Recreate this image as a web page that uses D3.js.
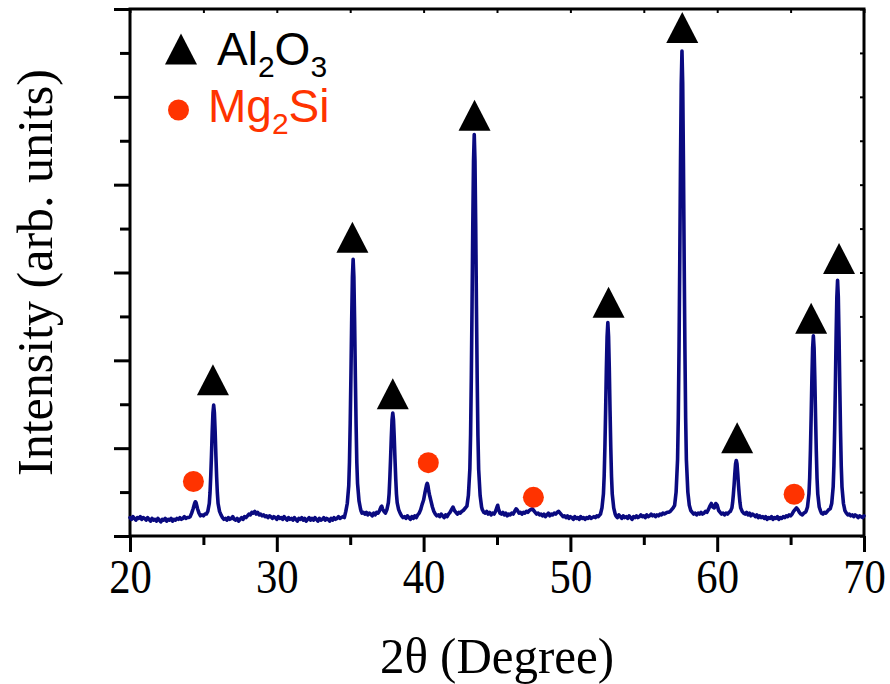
<!DOCTYPE html>
<html><head><meta charset="utf-8">
<script src="https://cdn.jsdelivr.net/npm/d3@7/dist/d3.min.js"></script>
<style>html,body{margin:0;padding:0;background:#fff;}svg{display:block}</style>
</head><body>
<svg id="chart" width="890" height="684"></svg>
<script>
// ---------- data ----------
const xMajorTicks = [20, 30, 40, 50, 60, 70];
const xMinorTicks = [25, 35, 45, 55, 65];
const yMajorTicks = [0, 100, 200, 300, 400, 500, 600];
const yMinorTicks = [50, 150, 250, 350, 450, 550];

// 2θ (degree), intensity (arb. units)
const xrdPattern = [
[20.0,21],[20.1,19],[20.2,22],[20.3,20],[20.4,18],[20.5,21],[20.6,20],[20.7,22],[20.8,19],[20.9,21],
[21.0,20],[21.1,18],[21.2,21],[21.3,19],[21.4,17],[21.5,20],[21.6,18],[21.7,19],[21.8,17],[21.9,20],
[22.0,18],[22.1,16],[22.2,19],[22.3,18],[22.4,20],[22.5,17],[22.6,19],[22.7,18],[22.8,20],[22.9,17],
[23.0,19],[23.1,18],[23.2,20],[23.3,19],[23.4,21],[23.5,19],[23.6,20],[23.7,22],[23.8,20],[23.9,21],
[24.0,21],[24.1,22],[24.2,26],[24.3,31],[24.4,37],[24.45,39],[24.5,38],[24.6,31],[24.7,26],[24.8,23],
[24.9,24],[25.0,23],[25.1,25],[25.2,25],[25.3,28],[25.4,37],[25.45,49],[25.5,68],[25.55,92],[25.6,119],
[25.65,140],[25.7,149],[25.75,140],[25.8,119],[25.85,92],[25.9,68],[25.95,49],[26.0,37],[26.1,28],[26.2,24],
[26.3,21],[26.4,19],[26.5,20],[26.6,18],[26.7,21],[26.8,19],[26.9,20],[27.0,22],[27.1,19],[27.2,18],
[27.3,20],[27.4,17],[27.5,19],[27.6,21],[27.7,19],[27.8,22],[27.9,21],[28.0,23],[28.1,25],[28.2,24],
[28.3,27],[28.4,26],[28.5,28],[28.6,25],[28.7,27],[28.8,24],[28.9,25],[29.0,23],[29.1,24],[29.2,22],
[29.3,23],[29.4,21],[29.5,23],[29.6,22],[29.7,20],[29.8,22],[29.9,21],[30.0,19],[30.1,22],[30.2,20],
[30.3,21],[30.4,19],[30.5,22],[30.6,20],[30.7,18],[30.8,21],[30.9,19],[31.0,20],[31.1,18],[31.2,21],
[31.3,19],[31.4,17],[31.5,20],[31.6,19],[31.7,21],[31.8,18],[31.9,20],[32.0,17],[32.1,19],[32.2,21],
[32.3,18],[32.4,20],[32.5,18],[32.6,21],[32.7,19],[32.8,17],[32.9,20],[33.0,18],[33.1,19],[33.2,21],
[33.3,18],[33.4,20],[33.5,19],[33.6,17],[33.7,20],[33.8,18],[33.9,21],[34.0,19],[34.1,20],[34.2,22],
[34.3,20],[34.4,21],[34.5,22],[34.6,21],[34.7,28],[34.8,37],[34.9,57],[34.95,84],[35.0,128],[35.05,183],
[35.1,245],[35.15,295],[35.2,315],[35.25,295],[35.3,245],[35.35,183],[35.4,128],[35.45,84],[35.5,60],[35.6,40],
[35.7,31],[35.75,28],[35.8,26],[35.9,27],[36.0,25],[36.1,27],[36.2,24],[36.3,26],[36.4,25],[36.5,23],
[36.6,26],[36.7,24],[36.8,27],[36.9,26],[37.0,29],[37.1,33],[37.15,34],[37.2,31],[37.3,28],[37.4,26],
[37.5,30],[37.6,38],[37.65,48],[37.7,66],[37.75,88],[37.8,112],[37.85,132],[37.9,140],[37.95,132],[38.0,112],
[38.05,88],[38.1,66],[38.15,48],[38.2,38],[38.3,30],[38.4,26],[38.5,23],[38.6,21],[38.7,22],[38.8,20],
[38.9,23],[39.0,21],[39.1,19],[39.2,22],[39.3,20],[39.4,23],[39.5,21],[39.6,24],[39.7,26],[39.8,30],
[39.9,36],[40.0,41],[40.1,50],[40.15,54],[40.2,58],[40.25,60],[40.3,57],[40.35,51],[40.4,47],[40.5,40],
[40.6,33],[40.7,28],[40.8,25],[40.9,23],[41.0,24],[41.1,22],[41.2,25],[41.3,23],[41.4,21],[41.5,24],
[41.6,22],[41.7,25],[41.8,27],[41.9,30],[42.0,33],[42.1,29],[42.2,27],[42.3,25],[42.4,27],[42.5,26],
[42.6,28],[42.7,29],[42.8,31],[42.95,34],[43.05,46],[43.15,76],[43.2,115],[43.25,180],[43.3,262],[43.35,353],
[43.4,427],[43.45,457],[43.5,427],[43.55,353],[43.6,262],[43.65,180],[43.7,115],[43.75,76],[43.85,46],[43.95,33],
[44.0,30],[44.1,27],[44.2,26],[44.3,28],[44.4,25],[44.5,27],[44.6,24],[44.7,26],[44.8,25],[44.9,28],
[45.0,33],[45.05,35],[45.1,31],[45.2,26],[45.3,25],[45.4,27],[45.5,24],[45.6,26],[45.7,23],[45.8,25],
[45.9,24],[46.0,26],[46.1,25],[46.2,28],[46.3,31],[46.4,29],[46.5,26],[46.6,27],[46.7,25],[46.8,27],
[46.9,26],[47.0,28],[47.1,27],[47.2,29],[47.3,30],[47.4,31],[47.5,29],[47.6,27],[47.7,25],[47.8,26],
[47.9,24],[48.0,25],[48.1,23],[48.2,25],[48.3,22],[48.4,24],[48.5,26],[48.6,23],[48.7,25],[48.8,24],
[48.9,26],[49.0,25],[49.1,27],[49.2,28],[49.3,26],[49.4,24],[49.5,22],[49.6,23],[49.7,21],[49.8,23],
[49.9,20],[50.0,22],[50.1,21],[50.2,19],[50.3,22],[50.4,20],[50.5,21],[50.6,19],[50.7,22],[50.8,20],
[50.9,21],[51.0,19],[51.1,21],[51.2,20],[51.3,22],[51.4,20],[51.5,21],[51.6,22],[51.7,21],[51.8,23],
[51.9,22],[52.0,24],[52.05,25],[52.15,32],[52.25,48],[52.3,68],[52.35,101],[52.4,143],[52.45,190],[52.5,227],
[52.55,243],[52.6,227],[52.65,190],[52.7,143],[52.75,101],[52.8,68],[52.85,48],[52.95,32],[53.05,25],[53.1,23],
[53.2,21],[53.3,24],[53.4,22],[53.5,20],[53.6,23],[53.7,21],[53.8,22],[53.9,20],[54.0,23],[54.1,21],
[54.2,19],[54.3,22],[54.4,21],[54.5,23],[54.6,21],[54.7,22],[54.8,24],[54.9,22],[55.0,23],[55.1,21],
[55.2,24],[55.3,22],[55.4,23],[55.5,25],[55.6,23],[55.7,24],[55.8,22],[55.9,24],[56.0,23],[56.1,25],
[56.2,24],[56.3,26],[56.4,25],[56.5,26],[56.6,27],[56.7,27],[56.8,28],[56.9,30],[57.0,32],[57.1,35],
[57.2,50],[57.3,87],[57.35,135],[57.4,214],[57.45,314],[57.5,425],[57.55,515],[57.6,552],[57.65,515],[57.7,425],
[57.75,314],[57.8,214],[57.85,135],[57.9,87],[58.0,50],[58.1,35],[58.2,29],[58.3,27],[58.4,25],[58.5,26],
[58.6,24],[58.7,26],[58.8,25],[58.9,27],[59.0,25],[59.1,26],[59.2,28],[59.3,27],[59.4,30],[59.5,34],
[59.6,37],[59.7,33],[59.8,32],[59.9,37],[60.0,35],[60.1,29],[60.2,27],[60.3,25],[60.4,26],[60.5,24],
[60.6,26],[60.7,25],[60.8,27],[60.9,28],[61.0,32],[61.05,38],[61.1,47],[61.15,58],[61.2,71],[61.25,82],
[61.3,86],[61.35,82],[61.4,71],[61.45,58],[61.5,47],[61.55,38],[61.6,32],[61.7,28],[61.8,26],[61.9,25],
[62.0,27],[62.1,24],[62.2,26],[62.3,23],[62.4,25],[62.5,24],[62.6,22],[62.7,24],[62.8,21],[62.9,23],
[63.0,21],[63.1,22],[63.2,20],[63.3,22],[63.4,19],[63.5,21],[63.6,20],[63.7,22],[63.8,19],[63.9,21],
[64.0,20],[64.1,22],[64.2,19],[64.3,21],[64.4,20],[64.5,22],[64.6,21],[64.7,23],[64.8,22],[64.9,24],
[65.0,23],[65.1,25],[65.2,28],[65.3,30],[65.4,32],[65.5,30],[65.6,27],[65.7,25],[65.8,24],[65.9,26],
[66.0,27],[66.05,28],[66.15,33],[66.25,48],[66.3,66],[66.35,97],[66.4,136],[66.45,179],[66.5,214],[66.55,228],
[66.6,214],[66.65,179],[66.7,136],[66.75,97],[66.8,66],[66.85,48],[66.95,33],[67.05,28],[67.1,26],[67.2,25],
[67.3,27],[67.4,26],[67.5,28],[67.6,30],[67.7,31],[67.8,37],[67.9,56],[67.95,80],[68.0,120],[68.05,171],
[68.1,227],[68.15,272],[68.2,291],[68.25,272],[68.3,227],[68.35,171],[68.4,120],[68.45,80],[68.5,56],[68.6,37],
[68.7,29],[68.8,26],[68.9,24],[69.0,25],[69.1,23],[69.2,24],[69.3,22],[69.4,24],[69.5,23],[69.6,21],
[69.7,23],[69.8,22],[69.9,21],[70.0,23]
];

// marker positions [2θ, intensity]
const al2o3Markers = [[25.65,178],[35.15,340],[37.9,162],[43.47,479],[52.6,266],[57.62,579],[61.36,112],[66.4,248],[68.3,316]];
const mg2siMarkers = [[24.32,62],[40.32,83.5],[47.48,44],[65.24,47.5]];

const legendItems = [
  {symbol: "triangle", parts: [["Al",0],["2",1],["O",0],["3",1]], color: "#000000"},
  {symbol: "circle",   parts: [["Mg",0],["2",1],["Si",0]],         color: "#ff3300"}
];

// ---------- drawing ----------
const svg = d3.select("#chart");
const lineColor = "#0a0a80";
const red = "#ff3300";
const pL = 130, pR = 864, pT = 9, pB = 536;

const x = d3.scaleLinear().domain([20, 70]).range([pL, pR]);
const y = d3.scaleLinear().domain([0, 600]).range([pB, pT]);

const serif = "'Liberation Serif','Times New Roman',serif";
const sans = "'Liberation Sans',Arial,sans-serif";

function styleAxis(g, w) {
  g.select(".domain").remove();
  g.selectAll(".tick line").attr("stroke", "#000").attr("stroke-width", w);
}

// bottom axis major with labels
const gxMaj = svg.append("g").attr("transform", `translate(0,${pB})`)
  .call(d3.axisBottom(x).tickValues(xMajorTicks).tickSize(16).tickSizeOuter(0).tickFormat(d3.format("d")));
styleAxis(gxMaj, 3);
gxMaj.selectAll(".tick text")
  .attr("y", 0).attr("dy", 0)
  .attr("transform", "translate(0,57) scale(0.97,1.08)")
  .attr("font-family", serif).attr("font-size", 44).attr("fill", "#000");

const gxMin = svg.append("g").attr("transform", `translate(0,${pB})`)
  .call(d3.axisBottom(x).tickValues(xMinorTicks).tickSize(9).tickSizeOuter(0).tickFormat(""));
styleAxis(gxMin, 3);

// top axis (inward small ticks)
const gxTop = svg.append("g").attr("transform", `translate(0,${pT})`)
  .call(d3.axisTop(x).tickValues(xMajorTicks.concat(xMinorTicks)).tickSize(-4).tickSizeOuter(0).tickFormat(""));
styleAxis(gxTop, 2);

// left axis
const gyMaj = svg.append("g").attr("transform", `translate(${pL},0)`)
  .call(d3.axisLeft(y).tickValues(yMajorTicks).tickSize(16).tickSizeOuter(0).tickFormat(""));
styleAxis(gyMaj, 3);
const gyMin = svg.append("g").attr("transform", `translate(${pL},0)`)
  .call(d3.axisLeft(y).tickValues(yMinorTicks).tickSize(10).tickSizeOuter(0).tickFormat(""));
styleAxis(gyMin, 3);

// right axis (inward small ticks)
const gyR = svg.append("g").attr("transform", `translate(${pR},0)`)
  .call(d3.axisRight(y).tickValues(yMajorTicks.concat(yMinorTicks)).tickSize(-4).tickSizeOuter(0).tickFormat(""));
styleAxis(gyR, 2);

// frame
svg.append("rect")
  .attr("x", pL).attr("y", pT).attr("width", pR - pL).attr("height", pB - pT)
  .attr("fill", "none").attr("stroke", "#000").attr("stroke-width", 3);

// pattern line
const line = d3.line().x(d => x(d[0])).y(d => y(d[1]));
svg.append("path").datum(xrdPattern)
  .attr("d", line)
  .attr("fill", "none").attr("stroke", lineColor).attr("stroke-width", 3.6)
  .attr("stroke-linejoin", "round").attr("stroke-linecap", "round");

// markers
const triHalfW = 16, triH = 31;
function triPath(cx, cy) {
  return `M${cx},${cy - triH / 2}L${cx - triHalfW},${cy + triH / 2}L${cx + triHalfW},${cy + triH / 2}Z`;
}
svg.append("g").selectAll("path").data(al2o3Markers).join("path")
  .attr("d", d => triPath(x(d[0]), y(d[1])))
  .attr("fill", "#000");
svg.append("g").selectAll("circle").data(mg2siMarkers).join("circle")
  .attr("cx", d => x(d[0])).attr("cy", d => y(d[1])).attr("r", 10.5)
  .attr("fill", red);

// legend
const legendPos = [{sx: 181, sy: 49, tx: 217, ty: 65}, {sx: 178.5, sy: 110, tx: 208, ty: 122}];
legendItems.forEach((item, i) => {
  const p = legendPos[i];
  if (item.symbol === "triangle") {
    svg.append("path").attr("d", triPath(p.sx, p.sy)).attr("fill", item.color);
  } else {
    svg.append("circle").attr("cx", p.sx).attr("cy", p.sy).attr("r", 10.5).attr("fill", item.color);
  }
  const t = svg.append("text").attr("x", p.tx).attr("y", p.ty)
    .attr("font-family", sans).attr("font-size", 46).attr("fill", item.color);
  let prevSub = 0;
  item.parts.forEach(([s, sub]) => {
    const dy = sub === prevSub ? 0 : (sub ? 12 : -12);
    t.append("tspan").attr("dy", dy).attr("font-size", sub ? 30 : 46).text(s);
    prevSub = sub;
  });
});

// axis titles
svg.append("text")
  .attr("transform", `translate(${(pL + pR) / 2},673) scale(1,1.04)`)
  .attr("text-anchor", "middle")
  .attr("font-family", serif).attr("font-size", 49).attr("fill", "#000")
  .text("2θ (Degree)");

svg.append("text")
  .attr("transform", `translate(52,${(pT + pB) / 2}) rotate(-90)`)
  .attr("text-anchor", "middle")
  .attr("font-family", serif).attr("font-size", 50).attr("fill", "#000")
  .text("Intensity (arb. units)");
</script>
</body></html>
